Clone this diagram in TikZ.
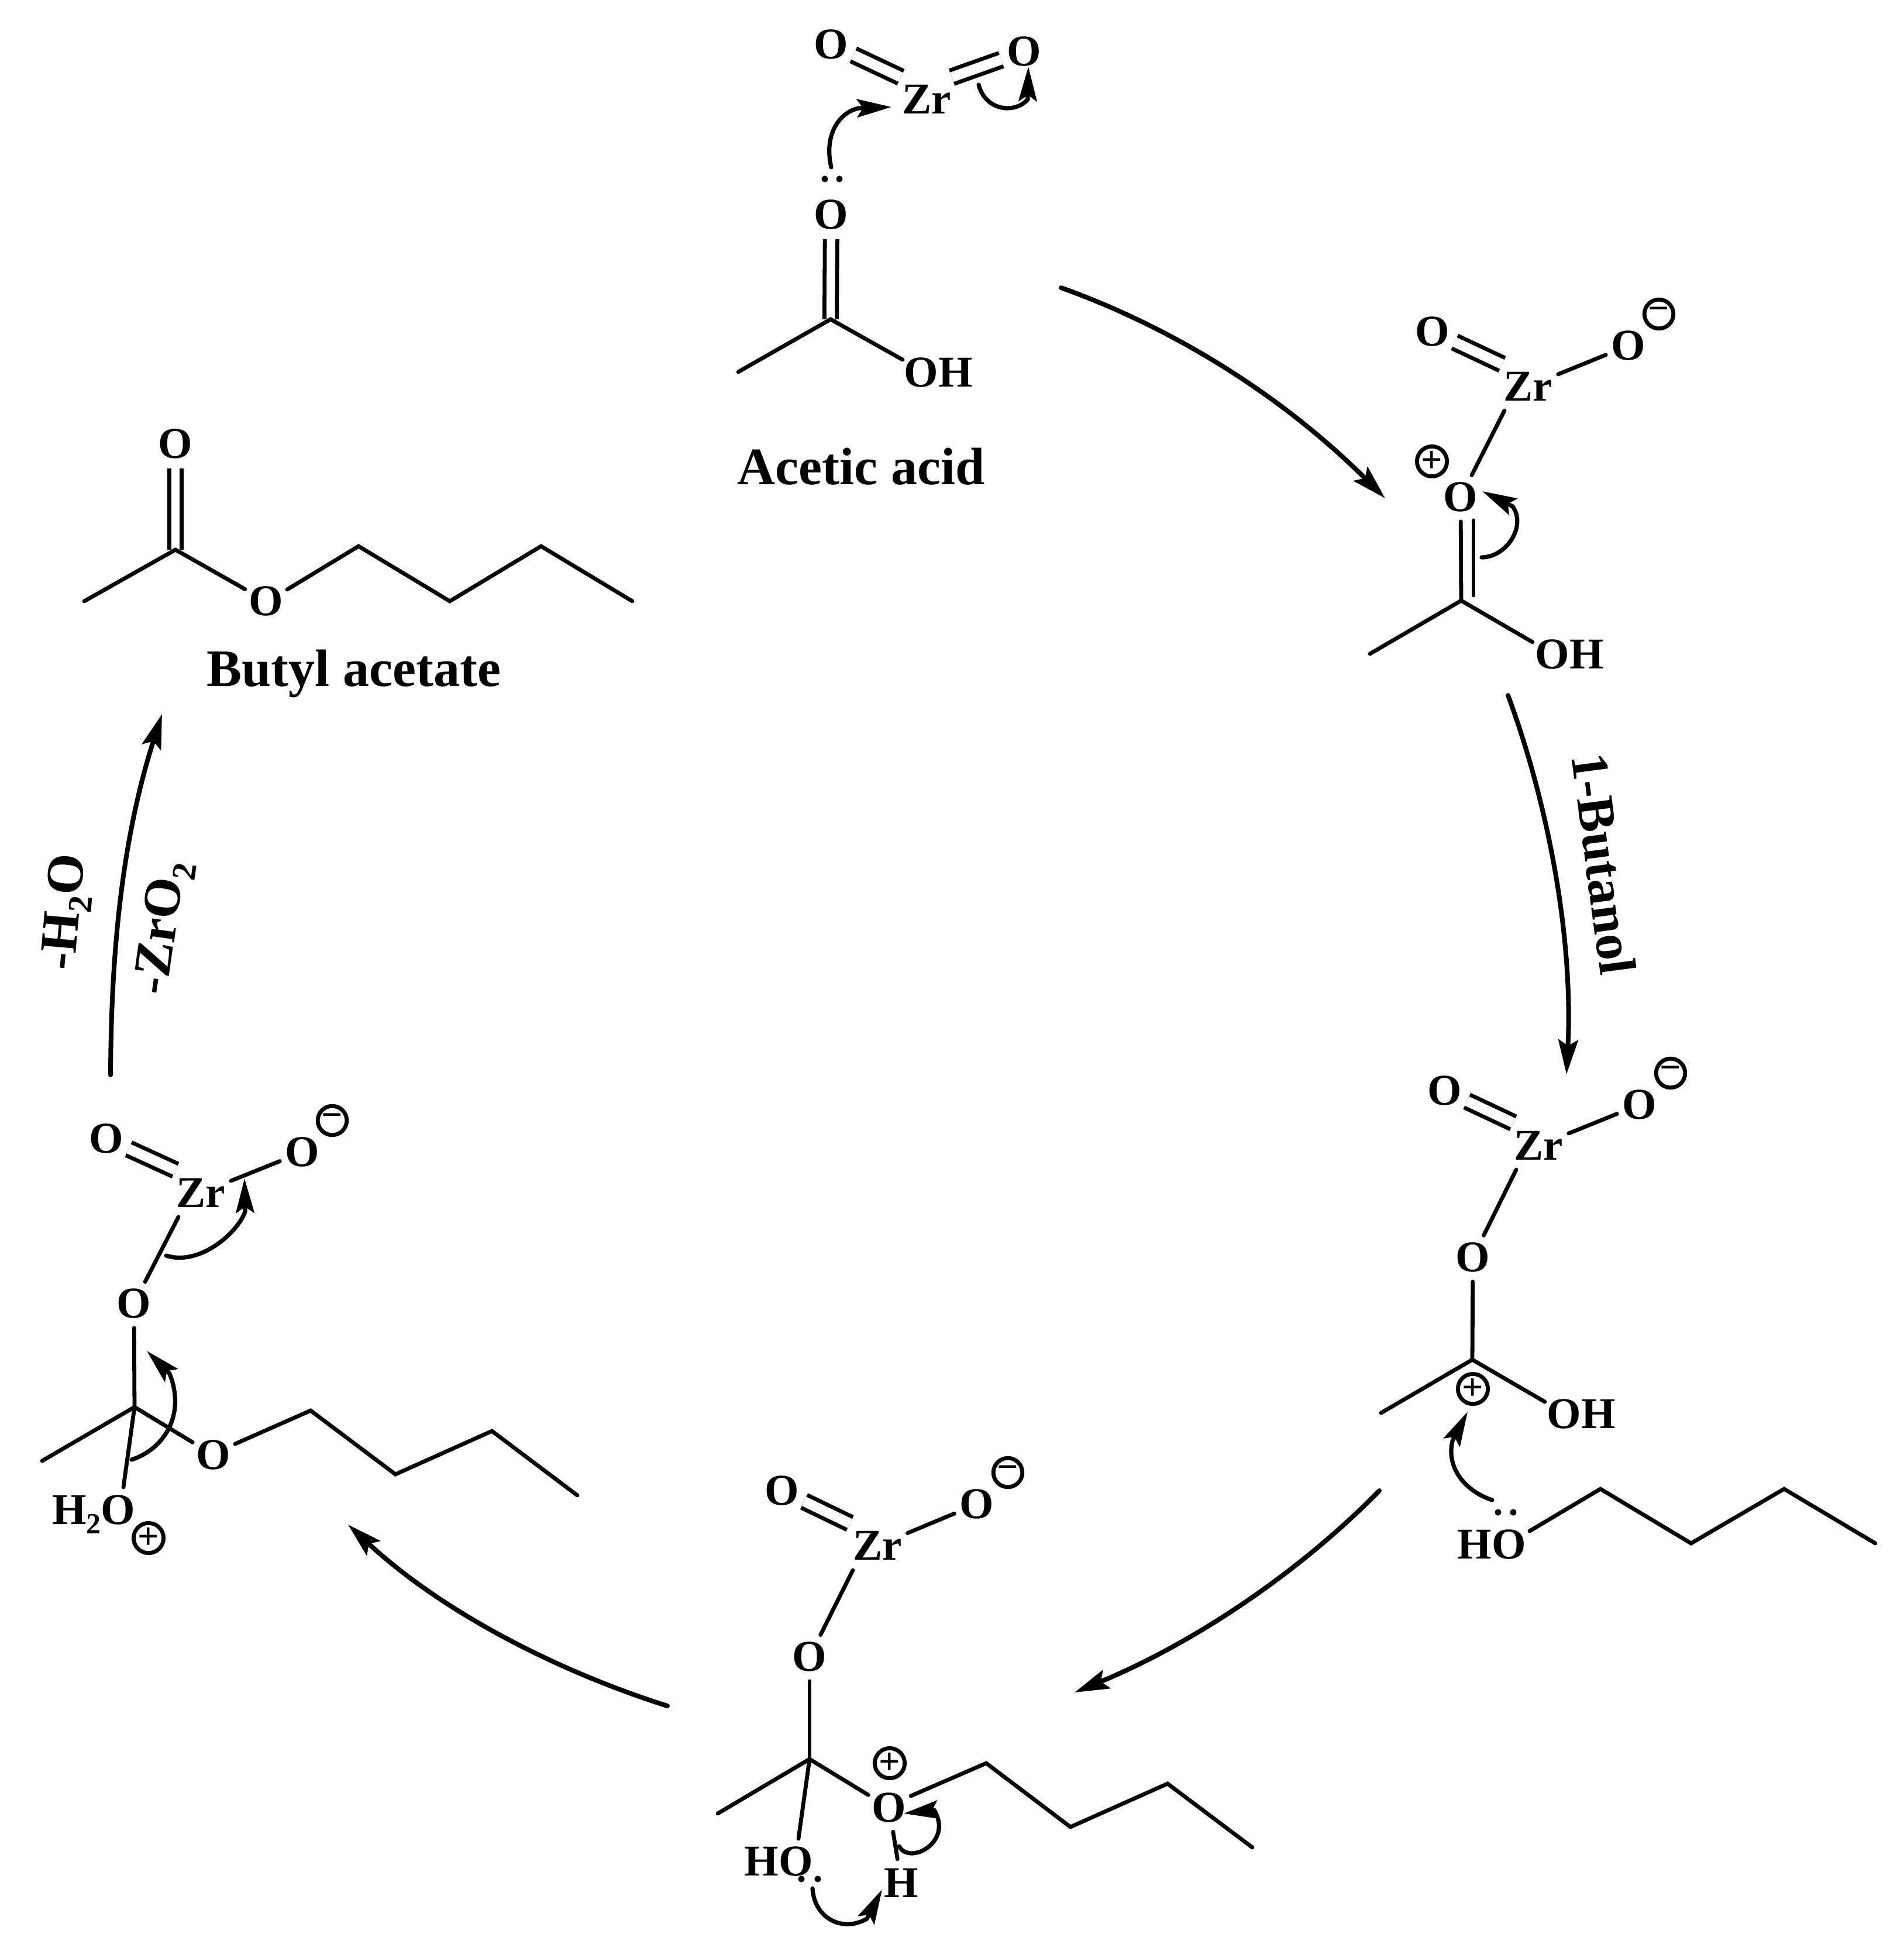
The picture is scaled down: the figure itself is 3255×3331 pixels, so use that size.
\documentclass[tikz,border=0pt]{standalone}
\usepackage{fontspec}
\setmainfont{Liberation Serif}
\usetikzlibrary{arrows.meta}
\newcommand{\lowtwo}[1]{\raisebox{-0.22em}{\fontsize{#1}{#1}\selectfont 2}}
\tikzset{
  atom/.style={circle,inner sep=0pt,minimum size=20.5pt,font=\fontsize{18.8}{18.8}\selectfont\bfseries},
  zr/.style={atom,minimum size=27.5pt},
  txt/.style={inner sep=0pt,font=\fontsize{18.8}{18.8}\selectfont\bfseries},
  title/.style={inner sep=0pt,font=\fontsize{22.5}{22.5}\selectfont\bfseries},
  chg/.style={circle,draw,line width=1.7pt,inner sep=0pt,minimum size=12.4pt,font=\fontsize{16}{16}\selectfont\bfseries},
  bond/.style={line width=1.7pt,line join=miter,line cap=round},
  dbl/.style={line width=1.7pt,double,double distance=4.3pt},
  dblc/.style={line width=1.7pt,double,double distance=3.6pt},
  bigarrow/.style={line width=2pt,line cap=round,-{Stealth[length=14.75pt,width=8.4pt,inset=2.6pt]}},
  curly/.style={line width=1.8pt,line cap=round,line join=round,-{Stealth[length=14.75pt,width=7.8pt,inset=2.6pt]}}
}
\begin{document}
\begin{tikzpicture}[x=0.25pt,y=-0.25pt]
\useasboundingbox (0,0) rectangle (3255,3331);

% ---------- acetic acid + ZrO2 (top)
\node[atom] (aO1) at (1421,76) {O};
\node[atom] (aO2) at (1751,88) {O};
\node[zr]   (aZr) at (1584,170) {Zr};
\node[atom] (aO3) at (1421,367) {O};
\node[txt]  (aOH) at (1604,637) {OH};
\node[title,anchor=base] (aName) at (1472,828) {Acetic acid};
\coordinate (aC) at (1420,546);
\coordinate (aMe) at (1262,636);
\coordinate (aOHe) at (1543,615);
\coordinate (aD1) at (1540,132);
\coordinate (aD2) at (1627,132);
\draw[dbl] (aO1) -- (aD1);
\draw[dbl] (aO2) -- (aD2);
\draw[dblc] (aO3) -- (aC);
\draw[bond] (aMe) -- (aC) -- (aOHe);
\fill (1410,306) circle[radius=1.4pt] (1435,306) circle[radius=1.4pt];
\coordinate (aS1) at (1421,286); \coordinate (aN1) at (1468,185); \coordinate (aT1) at (1524,183);
\draw[curly] (aS1) .. controls (1408,230) and (1435,192) .. (aN1) -- (aT1);
\coordinate (aS2) at (1673,145); \coordinate (aN2) at (1757,170); \coordinate (aT2) at (1758,114);
\draw[curly] (aS2) .. controls (1685,190) and (1735,195) .. (aN2) -- (aT2);

% ---------- protonated complex (upper right)
\node[atom] (bO1) at (2449,567) {O};
\node[atom] (bO2) at (2784,591) {O};
\node[chg]  (bM)  at (2836,537) {−};
\node[zr]   (bZr) at (2612,661) {Zr};
\node[chg]  (bP)  at (2448,789) {+};
\node[atom] (bO3) at (2497,850) {O};
\node[txt]  (bOH) at (2683,1119) {OH};
\coordinate (bD1) at (2568,623);
\coordinate (bZe) at (2572,702);
\coordinate (bC) at (2498,1027);
\coordinate (bMe) at (2342,1118);
\coordinate (bOHe) at (2620,1098);
\coordinate (bK1) at (2519,890);
\coordinate (bK2) at (2519,1018);
\draw[dbl] (bO1) -- (bD1);
\draw[bond] (bZr) -- (bO2);
\draw[bond] (bO3) -- (bZe);
\draw[bond] (bO3) -- (bC);
\draw[bond] (bK1) -- (bK2);
\draw[bond] (bMe) -- (bC) -- (bOHe);
\coordinate (bS1) at (2533,953); \coordinate (bN1) at (2586,866); \coordinate (bT1) at (2534,840);
\draw[curly] (bS1) .. controls (2575,953) and (2610,900) .. (bN1) -- (bT1);

% ---------- carbocation + butanol (right)
\node[atom] (cO1) at (2470,1865) {O};
\node[atom] (cO2) at (2803,1889) {O};
\node[chg]  (cM)  at (2856,1835) {−};
\node[zr]   (cZr) at (2630,1959) {Zr};
\node[atom] (cO3) at (2518,2150) {O};
\node[chg]  (cP)  at (2518,2375) {+};
\node[txt]  (cOH) at (2703,2418) {OH};
\node[txt]  (cHO) at (2550,2641) {HO};
\coordinate (cD1) at (2587,1920);
\coordinate (cZe) at (2592,2000);
\coordinate (cC) at (2517,2325);
\coordinate (cMe) at (2361,2416);
\coordinate (cOHe) at (2641,2397);
\coordinate (cHe) at (2615,2618);
\coordinate (cB1) at (2736,2546);
\coordinate (cB2) at (2891,2639);
\coordinate (cB3) at (3050,2546);
\coordinate (cB4) at (3206,2639);
\draw[dbl] (cO1) -- (cD1);
\draw[bond] (cZr) -- (cO2);
\draw[bond] (cO3) -- (cZe);
\draw[bond] (cO3) -- (cC);
\draw[bond] (cMe) -- (cC) -- (cOHe);
\draw[bond] (cHe) -- (cB1) -- (cB2) -- (cB3) -- (cB4);
\fill (2561,2586) circle[radius=1.4pt] (2587,2586) circle[radius=1.4pt];
\coordinate (cS1) at (2551,2565); \coordinate (cN1) at (2483,2464); \coordinate (cT1) at (2509,2414);
\draw[curly] (cS1) .. controls (2505,2550) and (2472,2510) .. (cN1) -- (cT1);

% ---------- oxonium (bottom)
\node[atom] (dO1) at (1337,2549) {O};
\node[atom] (dO2) at (1670,2572) {O};
\node[chg]  (dM)  at (1723,2518) {−};
\node[zr]   (dZr) at (1500,2643) {Zr};
\node[atom] (dO3) at (1384,2833) {O};
\node[chg]  (dP)  at (1521,3015) {+};
\node[atom] (dO4) at (1520,3091) {O};
\node[txt]  (dHO) at (1331,3183) {HO};
\node[atom] (dH)  at (1541,3220) {H};
\coordinate (dD1) at (1453,2605);
\coordinate (dZe) at (1458,2685);
\coordinate (dC) at (1384,3008);
\coordinate (dMe) at (1227,3101);
\coordinate (dHOe) at (1365,3144);
\coordinate (dB0) at (1557,3071);
\coordinate (dB1) at (1686,3015);
\coordinate (dB2) at (1830,3124);
\coordinate (dB3) at (1996,3050);
\coordinate (dB4) at (2141,3159);
\draw[dbl] (dO1) -- (dD1);
\draw[bond] (dZr) -- (dO2);
\draw[bond] (dO3) -- (dZe);
\draw[bond] (dO3) -- (dC);
\draw[bond] (dMe) -- (dC) -- (dO4);
\draw[bond] (dC) -- (dHOe);
\draw[bond] (dO4) -- (dH);
\draw[bond] (dB0) -- (dB1) -- (dB2) -- (dB3) -- (dB4);
\fill (1370,3213) circle[radius=1.4pt] (1398,3213) circle[radius=1.4pt];
\coordinate (dS1) at (1537,3157); \coordinate (dN1) at (1597,3095); \coordinate (dT1) at (1545,3101);
\draw[curly] (dS1) .. controls (1555,3190) and (1630,3150) .. (dN1) -- (dT1);
\coordinate (dS2) at (1389,3229); \coordinate (dN2) at (1482,3281); \coordinate (dT2) at (1508,3231);
\draw[curly] (dS2) .. controls (1392,3280) and (1440,3305) .. (dN2) -- (dT2);

% ---------- tetrahedral complex (left)
\node[atom] (eO1) at (182,1947) {O};
\node[atom] (eO2) at (517,1970) {O};
\node[chg]  (eM)  at (568,1916) {−};
\node[zr]   (eZr) at (343,2040) {Zr};
\node[atom] (eO3) at (229,2229) {O};
\node[atom] (eO4) at (365,2488) {O};
\node[txt,anchor=base] (eW) at (160,2606) {H\lowtwo{12.5}O};
\node[chg]  (eP)  at (254,2630) {+};
\coordinate (eD1) at (300,2001);
\coordinate (eZe) at (305,2081);
\coordinate (eC) at (230,2406);
\coordinate (eMe) at (72,2498);
\coordinate (eWe) at (211,2543);
\coordinate (eB0) at (402,2469);
\coordinate (eB1) at (531,2412);
\coordinate (eB2) at (676,2521);
\coordinate (eB3) at (841,2447);
\coordinate (eB4) at (987,2557);
\draw[dbl] (eO1) -- (eD1);
\draw[bond] (eZr) -- (eO2);
\draw[bond] (eO3) -- (eZe);
\draw[bond] (eO3) -- (eC);
\draw[bond] (eMe) -- (eC) -- (eO4);
\draw[bond] (eC) -- (eWe);
\draw[bond] (eB0) -- (eB1) -- (eB2) -- (eB3) -- (eB4);
\coordinate (eS1) at (284,2147); \coordinate (eN1) at (419,2072); \coordinate (eT1) at (418,2015);
\draw[curly] (eS1) .. controls (340,2165) and (405,2110) .. (eN1) -- (eT1);
\coordinate (eS2) at (225,2496); \coordinate (eN2) at (290,2349); \coordinate (eT2) at (251,2310);
\draw[curly] (eS2) .. controls (280,2478) and (318,2420) .. (eN2) -- (eT2);

% ---------- butyl acetate (upper left)
\node[atom] (fO1) at (300,759) {O};
\node[atom] (fO2) at (455,1028) {O};
\node[title,anchor=base] (fName) at (605,1173) {Butyl acetate};
\coordinate (fC) at (300,940);
\coordinate (fMe) at (144,1028);
\coordinate (fB0) at (491,1008);
\coordinate (fB1) at (613,934);
\coordinate (fB2) at (769,1028);
\coordinate (fB3) at (925,934);
\coordinate (fB4) at (1081,1028);
\draw[dblc] (fO1) -- (fC);
\draw[bond] (fMe) -- (fC) -- (fO2);
\draw[bond] (fB0) -- (fB1) -- (fB2) -- (fB3) -- (fB4);

% ---------- cycle arrows
\coordinate (gA0) at (1814,492); \coordinate (gA1) at (2368,852);
\draw[bigarrow] (gA0) .. controls (1990,555) and (2180,665) .. (gA1);
\coordinate (gB0) at (2578,1189); \coordinate (gB1) at (2678,1837);
\draw[bigarrow] (gB0) .. controls (2645,1370) and (2690,1600) .. (gB1);
\coordinate (gC0) at (2358,2549); \coordinate (gC1) at (1837,2894);
\draw[bigarrow] (gC0) .. controls (2220,2690) and (2040,2810) .. (gC1);
\coordinate (gD0) at (1141,2917); \coordinate (gD1) at (595,2607);
\draw[bigarrow] (gD0) .. controls (960,2860) and (760,2760) .. (gD1);
\coordinate (gE0) at (189,1838); \coordinate (gE1) at (277,1221);
\draw[bigarrow] (gE0) .. controls (190,1620) and (210,1430) .. (gE1);

% ---------- arrow labels
\node[title,rotate=-82.5] (lBut) at (2742,1477) {1-Butanol};
\node[title,rotate=85] (lWater) at (116,1560) {-H\lowtwo{14.5}O};
\node[title,rotate=82] (lZr) at (281,1587) {-ZrO\lowtwo{14.5}};
\end{tikzpicture}
\end{document}
